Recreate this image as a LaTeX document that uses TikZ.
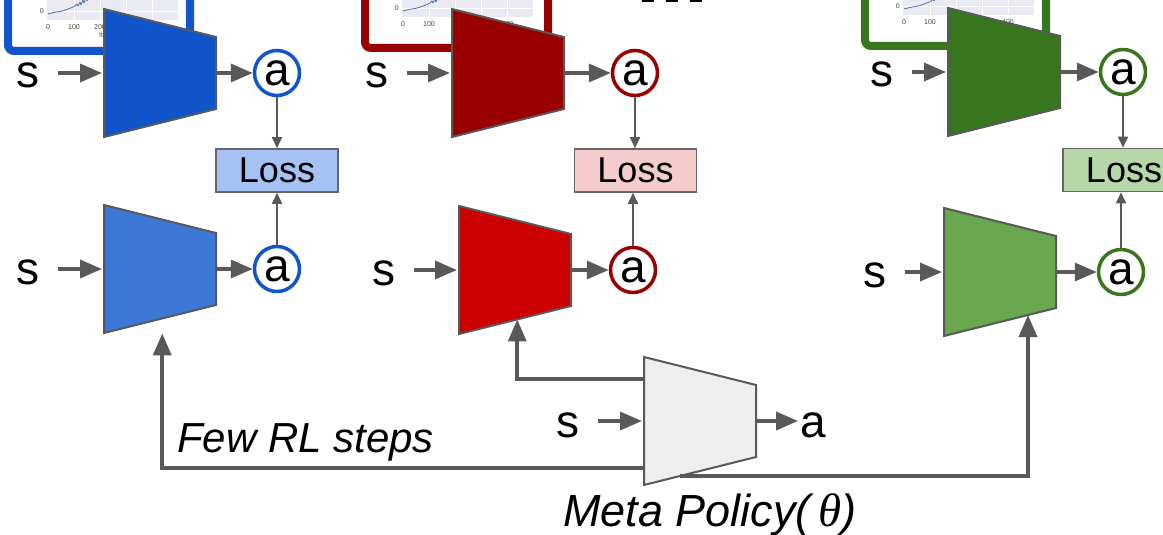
\documentclass[tikz,border=0pt]{standalone}
\usepackage{fontspec}
\setmainfont{Liberation Sans}
\newfontfamily\greekfont{Liberation Serif}
\usetikzlibrary{arrows.meta,calc}

\definecolor{edge}{HTML}{595959}
\definecolor{lossedge}{HTML}{666666}
\definecolor{blueA}{HTML}{1155CC}
\definecolor{blueB}{HTML}{3C78D8}
\definecolor{blueL}{HTML}{A4C2F4}
\definecolor{redA}{HTML}{990000}
\definecolor{redB}{HTML}{CC0000}
\definecolor{redL}{HTML}{F4CCCC}
\definecolor{greenA}{HTML}{38761D}
\definecolor{greenB}{HTML}{6AA84F}
\definecolor{greenL}{HTML}{B6D7A8}
\definecolor{metaF}{HTML}{EFEFEF}
\definecolor{plotbg}{HTML}{EAEAF2}
\definecolor{curve}{HTML}{4C72B0}
\definecolor{tick}{HTML}{444444}

% trapezoid network: name, left x, middle y, fill
\newcommand\policynet[4]{%
  \node[netbox] (#1) at ({#2+56},#3) {};
  \coordinate (#1-tr) at ($(#1.east)+(0,-36)$);
  \coordinate (#1-br) at ($(#1.east)+(0,36)$);
  \draw[netedge, fill=#4] (#1.north west) -- (#1-tr) -- (#1-br) -- (#1.south west) -- cycle;
}

% input s, network, action ring: name, s x, net left, mid y, fill, ring x, ring colour
\newcommand\policyrow[7]{%
  \node[lbl, anchor=base] (#1s) at (#2,{#4+15}) {s};
  \policynet{#1}{#3}{#4}{#5}
  \node[actcirc, draw=#7] (#1a) at (#6,#4) {a};
  \draw[bigarr, shorten <=18, shorten >=2] (#1s.east |- #1.west) -- (#1.west);
  \draw[bigarr] (#1.east) -- (#1a.west);
}

% learning-curve panel: frame colour, frame left, frame right, frame bottom, plot left, third tick x, third tick text
\newcommand\curvepanel[7]{%
  \draw[line width=8, draw=#1, fill=white, rounded corners=6] ({#2+4},-30) rectangle ({#3-4},{#4-4});
  \fill[plotbg] (#5,-30) rectangle ({#5+131},{#4-35});
  \foreach \k in {1,...,4}
    \draw[gridline] ({#5+1+26.2*\k},-30) -- ({#5+1+26.2*\k},{#4-35});
  \draw[gridline] (#5,{#4-44}) -- ({#5+131},{#4-44});
  \draw[gridline] (#5,{#4-70}) -- ({#5+131},{#4-70});
  \node[ticklbl] at ({#5+1},{#4-28}) {0};
  \node[ticklbl] at ({#5+27},{#4-28}) {100};
  \node[ticklbl] at ({#5+#6},{#4-28}) {#7};
  \node[ticklbl, anchor=east] at ({#5-3},{#4-44}) {0};
  \draw[curve, line width=0.8, line join=round]
    ({#5+1},{#4-41}) -- ({#5+5},{#4-42}) -- ({#5+9},{#4-43}) -- ({#5+13},{#4-43.5})
    -- ({#5+17},{#4-44.5}) -- ({#5+21},{#4-46}) -- ({#5+25},{#4-47.5}) -- ({#5+28},{#4-49})
    -- ({#5+30},{#4-51}) -- ({#5+31},{#4-49}) -- ({#5+33},{#4-53}) -- ({#5+34},{#4-50})
    -- ({#5+36},{#4-55}) -- ({#5+37},{#4-52}) -- ({#5+39},{#4-57}) -- ({#5+40},{#4-54})
    -- ({#5+42},{#4-60});
}

\begin{document}
\begin{tikzpicture}[x=1pt,y=-1pt,
  netedge/.style={draw=edge, line width=2, line join=miter},
  netbox/.style={rectangle, minimum width=112, minimum height=128, inner sep=0, outer sep=0},
  lbl/.style={inner sep=0, font=\fontsize{46}{50}\selectfont},
  actcirc/.style={circle, fill=white, line width=3.5, minimum size=45, inner sep=0,
    font=\fontsize{46}{50}\selectfont},
  lossbox/.style={rectangle, draw=lossedge, line width=1.6, minimum width=122,
    minimum height=43, inner sep=0, font=\fontsize{36}{40}\selectfont},
  bigarr/.style={draw=edge, line width=3.5, -{Triangle[length=22,width=18]}},
  thinarr/.style={draw=edge, line width=1.8, -{Triangle[length=11,width=10]}},
  gridline/.style={draw=white, line width=0.8},
  ticklbl/.style={inner sep=0, text=tick, font=\fontsize{7}{8}\selectfont}]
\useasboundingbox (0,0) rectangle (1163,535);
\clip (0,0) rectangle (1163,535);

% learning curves of the three tasks
\curvepanel{blueA}{4}{194}{55}{47}{53}{200}
\node[ticklbl] at (101,35) {It};
\curvepanel{redA}{361}{552}{52}{402}{106}{400}
\curvepanel{greenA}{861}{1050}{50}{903}{105}{400}

\node[anchor=base west, inner sep=0, font=\fontsize{86}{90}\selectfont\bfseries] (dots) at (636,3) {...};

% adapted policies (top) and their targets (bottom)
\policyrow{bt}{28}{104}{73}{blueA}{277}{blueA}
\policyrow{bb}{28}{104}{269}{blueB}{277}{blueA}
\policyrow{rt}{377}{452}{73}{redA}{635}{redA}
\policyrow{rb}{384}{459}{270}{redB}{633}{redA}
\policyrow{gt}{882}{948}{72}{greenA}{1123}{greenA}
\policyrow{gb}{875}{944}{272}{greenB}{1121}{greenA}

\node[lossbox, fill=blueL] (bl) at (277,170.5) {Loss};
\node[lossbox, fill=redL] (rl) at (635.5,170.5) {Loss};
\node[lossbox, fill=greenL] (gl) at (1124,170) {Loss};

\draw[thinarr] (bta.south) -- (bta.south |- bl.north);
\draw[thinarr] (bba.north) -- (bba.north |- bl.south);
\draw[thinarr] (rta.south) -- (rta.south |- rl.north);
\draw[thinarr] (rba.north) -- (rba.north |- rl.south);
\draw[thinarr] (gta.south) -- (gta.south |- gl.north);
\draw[thinarr] (gba.north) -- (gba.north |- gl.south);

% meta policy
\node[lbl, anchor=base] (ms) at (568,437) {s};
\policynet{m}{644}{421}{metaF}
\node[lbl, anchor=base] (ma) at (813,437) {a};
\draw[bigarr, shorten <=18, shorten >=2] (ms.east |- m.west) -- (m.west);
\draw[bigarr, shorten >=2] (m.east) -- (ma.west |- m.east);

% few RL steps from the meta policy
\draw[bigarr] ($(m.west)+(0,-42)$) -| ($(rb.south west)!0.52!(rb-br)$);
\draw[bigarr] ($(m.west)+(0,47)$) -| ($(bb.south west)!0.52!(bb-br)+(0,15)$);
\draw[bigarr] ($(m.south west)!0.32!(m-br)$) -| ($(gb.south west)!0.75!(gb-br)$);

\node[anchor=base west, inner sep=0, font=\fontsize{42}{48}\selectfont\itshape] (few) at (177,452) {Few RL steps};
\node[anchor=base west, inner sep=0, font=\fontsize{45}{50}\selectfont\itshape] (mlab) at (563,526)
  {Meta Policy(\,{\greekfont\fontsize{47}{50}\selectfont θ})};
\end{tikzpicture}
\end{document}
